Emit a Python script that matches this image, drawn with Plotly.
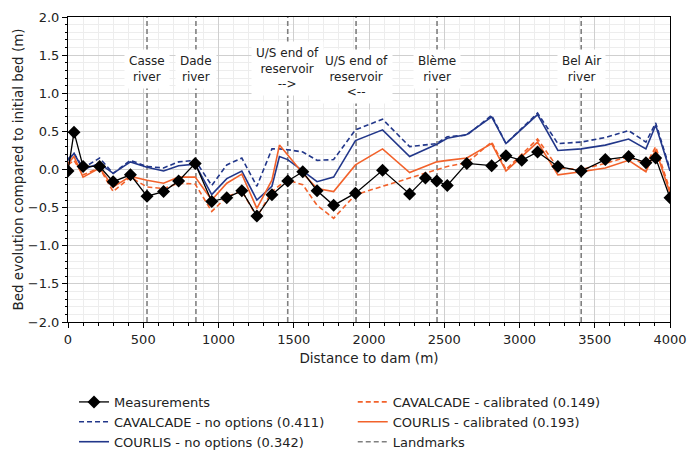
import plotly.graph_objects as go

# ---------------- data ----------------
meas_x = [0, 40, 100, 210, 300, 415, 525, 635, 735, 845, 955, 1055, 1155, 1255, 1355,
          1460, 1560, 1655, 1765, 1910, 2090, 2270, 2375, 2450, 2520, 2650, 2815, 2910,
          3015, 3120, 3255, 3410, 3570, 3725, 3840, 3905, 4000]
meas_y = [-0.02, 0.49, 0.04, 0.04, -0.16, -0.07, -0.35, -0.29, -0.15, 0.08, -0.42, -0.37,
          -0.28, -0.61, -0.33, -0.15, -0.03, -0.28, -0.47, -0.31, -0.01, -0.32, -0.11,
          -0.15, -0.21, 0.08, 0.05, 0.18, 0.12, 0.23, 0.04, -0.02, 0.13, 0.17, 0.09, 0.15,
          -0.37]

model_x = [0, 40, 100, 210, 300, 415, 525, 635, 735, 845, 955, 1055, 1155, 1255, 1355,
           1405, 1460, 1560, 1655, 1765, 1910, 2090, 2270, 2450, 2520, 2650, 2815, 2910,
           3120, 3255, 3410, 3570, 3725, 3840, 3905, 4000]

courlis_noopt = [0.12, 0.21, 0.00, 0.08, -0.05, 0.10, 0.03, -0.02, 0.05, 0.07, -0.33, -0.12,
                 -0.02, -0.40, -0.22, 0.17, 0.13, -0.02, -0.16, -0.10, 0.38, 0.52, 0.17,
                 0.33, 0.41, 0.46, 0.69, 0.34, 0.72, 0.25, 0.27, 0.32, 0.40, 0.27, 0.58,
                 -0.02]
cavalcade_noopt = [0.14, 0.21, 0.02, 0.15, -0.05, 0.12, 0.04, 0.02, 0.10, 0.12, -0.21, 0.06,
                   0.15, -0.22, 0.27, 0.27, 0.26, 0.23, 0.12, 0.13, 0.52, 0.66, 0.30, 0.34,
                   0.43, 0.45, 0.71, 0.34, 0.74, 0.34, 0.36, 0.42, 0.51, 0.36, 0.61, 0.00]
courlis_cal = [0.08, 0.17, -0.10, 0.02, -0.23, -0.09, -0.14, -0.18, -0.10, -0.10, -0.40,
               -0.18, -0.06, -0.51, -0.14, 0.32, 0.19, -0.05, -0.25, -0.29, 0.06, 0.27,
               -0.04, 0.10, 0.12, 0.15, 0.34, -0.02, 0.36, -0.07, -0.03, 0.02, 0.12, -0.03,
               0.26, -0.31]
cavalcade_cal = [0.06, 0.12, -0.07, 0.02, -0.29, -0.10, -0.23, -0.25, -0.18, -0.19, -0.55,
                 -0.36, -0.28, -0.62, -0.29, -0.21, -0.14, -0.20, -0.47, -0.64, -0.33, -0.22,
                 -0.12, 0.00, 0.04, 0.09, 0.36, 0.00, 0.40, 0.02, 0.00, 0.08, 0.17, 0.06,
                 0.30, -0.27]

landmark_x = [525, 850, 1460, 1914, 2452, 3410]
landmark_labels = ["Casse<br>river", "Dade<br>river", "U/S end of<br>reservoir<br>-->",
                   "U/S end of<br>reservoir<br><--", "Blème<br>river", "Bel Air<br>river"]
landmark_label_y = [1.32, 1.32, 1.32, 1.22, 1.32, 1.32]

x_ticks = [0, 500, 1000, 1500, 2000, 2500, 3000, 3500, 4000]
y_ticks = [-2.0, -1.5, -1.0, -0.5, 0.0, 0.5, 1.0, 1.5, 2.0]

names = {
    "meas": "Measurements",
    "cav_no": "CAVALCADE - no options (0.411)",
    "cou_no": "COURLIS - no options (0.342)",
    "cav_cal": "CAVALCADE - calibrated (0.149)",
    "cou_cal": "COURLIS - calibrated (0.193)",
    "land": "Landmarks",
}

NAVY = "#22378a"
ORANGE = "#f2622b"
GREY = "#808080"
FONT = "DejaVu Sans"
TXT = "#222222"

fig = go.Figure()

# landmarks (vertical dashed lines)
lx, ly = [], []
for x in landmark_x:
    lx += [x, x, None]
    ly += [-2, 2, None]
fig.add_trace(go.Scatter(x=lx, y=ly, mode="lines", name=names["land"],
                         line=dict(color=GREY, width=1.6, dash="5px,3px"),
                         legend="legend2", legendrank=3, hoverinfo="skip"))

fig.add_trace(go.Scatter(x=model_x, y=cavalcade_noopt, mode="lines", name=names["cav_no"],
                         line=dict(color=NAVY, width=1.6, dash="5px,3px"),
                         legend="legend", legendrank=2))
fig.add_trace(go.Scatter(x=model_x, y=courlis_noopt, mode="lines", name=names["cou_no"],
                         line=dict(color=NAVY, width=1.6), legend="legend", legendrank=3))
fig.add_trace(go.Scatter(x=model_x, y=cavalcade_cal, mode="lines", name=names["cav_cal"],
                         line=dict(color=ORANGE, width=1.6, dash="5px,3px"),
                         legend="legend2", legendrank=1))
fig.add_trace(go.Scatter(x=model_x, y=courlis_cal, mode="lines", name=names["cou_cal"],
                         line=dict(color=ORANGE, width=1.6), legend="legend2", legendrank=2))
fig.add_trace(go.Scatter(x=meas_x, y=meas_y, mode="lines+markers", name=names["meas"],
                         line=dict(color="black", width=1.3),
                         marker=dict(symbol="diamond", size=10, color="black"),
                         legend="legend", legendrank=1))

for x, t, y in zip(landmark_x, landmark_labels, landmark_label_y):
    fig.add_annotation(x=x, y=y, xref="x", yref="y", text=t, showarrow=False,
                       bgcolor="white", borderpad=4,
                       font=dict(family=FONT, size=12, color=TXT))

axis_common = dict(showline=True, linecolor="black", linewidth=1, mirror=True,
                   ticks="outside", ticklen=5, tickcolor="black",
                   showgrid=True, gridcolor="#cfcfcf", gridwidth=1, zeroline=False,
                   automargin=False, ticklabeloverflow="allow",
                   tickfont=dict(family=FONT, size=13, color=TXT))

fig.update_xaxes(range=[0, 4000], tickvals=x_ticks,
                 title=dict(text="Distance to dam (m)", standoff=7,
                            font=dict(family=FONT, size=13.5, color=TXT)),
                 minor=dict(dtick=100, showgrid=True, gridcolor="#ededed", ticks="outside",
                            ticklen=2.5, tickcolor="black"),
                 **axis_common)
fig.update_yaxes(range=[-2, 2], tickvals=y_ticks, tickformat=".1f",
                 title=dict(text="Bed evolution compared to initial bed (m)", standoff=1,
                            font=dict(family=FONT, size=13.5, color=TXT)),
                 minor=dict(dtick=0.1, showgrid=True, gridcolor="#ededed", ticks="outside",
                            ticklen=2.5, tickcolor="black"),
                 **axis_common)

legend_common = dict(orientation="v", yanchor="top", xanchor="left",
                     bgcolor="rgba(0,0,0,0)", font=dict(family=FONT, size=13, color=TXT),
                     traceorder="normal", itemwidth=30)
fig.update_layout(
    width=687, height=451,
    margin=dict(l=68, r=17, t=17, b=129, autoexpand=False),
    paper_bgcolor="white", plot_bgcolor="white",
    font=dict(family=FONT, size=13, color=TXT),
    legend=dict(x=0.01, y=-0.213, **legend_common),
    legend2=dict(x=0.473, y=-0.213, **legend_common),
    showlegend=True,
)

fig.write_html("out.html")
